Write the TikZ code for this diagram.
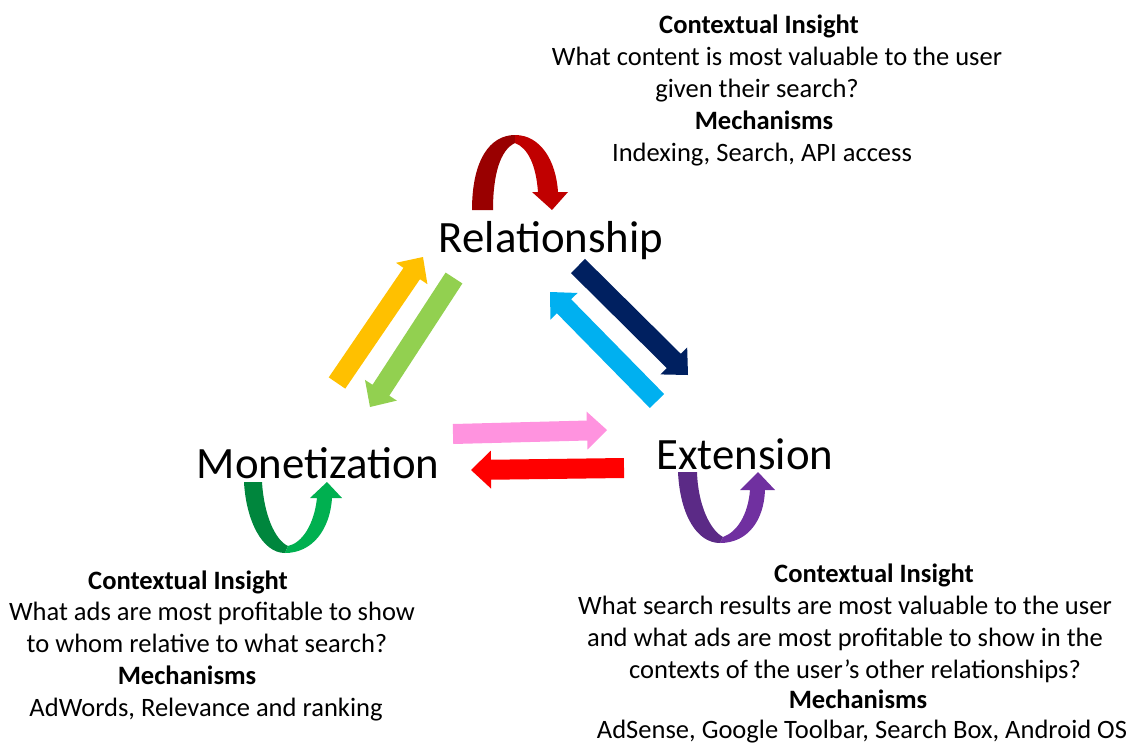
\documentclass[tikz,border=0pt]{standalone}
\usepackage{fontspec}
\setmainfont{Carlito}
\usetikzlibrary{calc}
\definecolor{cyellow}{HTML}{FFC000}
\definecolor{cgreenl}{HTML}{92D050}
\definecolor{cnavy}{HTML}{002060}
\definecolor{cblue}{HTML}{00B0F0}
\definecolor{cpink}{HTML}{FF93DF}
\definecolor{cred}{HTML}{FF0000}
\definecolor{cdred}{HTML}{990000}
\definecolor{cmred}{HTML}{C00000}
\definecolor{cdgreen}{HTML}{00863D}
\definecolor{cmgreen}{HTML}{00B050}
\definecolor{cdpurple}{HTML}{5B2A86}
\definecolor{cmpurple}{HTML}{7030A0}
% #1 colour, #2 tail, #3 tip
\newcommand\blkarrow[3]{%
  \coordinate (#2h) at ($(#3)!0.4cm!(#2)$);
  \fill[#1] ($(#2)!0.2cm!90:(#3)$) -- ($(#2h)!0.2cm!90:(#3)$) -- ($(#2h)!0.38cm!90:(#3)$)
    -- (#3) -- ($(#2h)!0.38cm!-90:(#3)$) -- ($(#2h)!0.2cm!-90:(#3)$) -- ($(#2)!0.2cm!-90:(#3)$) -- cycle;
}
\tikzset{
  txt/.style={font=\fontsize{15.1}{18}\selectfont, anchor=base, inner sep=0pt},
  txtb/.style={txt, font=\fontsize{15.1}{18}\selectfont\bfseries},
  big/.style={font=\fontsize{25.5}{30}\selectfont, anchor=base, inner sep=0pt},
}
\begin{document}
\begin{tikzpicture}[x=0.02cm, y=-0.02cm]
\path[use as bounding box] (0,0) rectangle (1133,744);

% main labels
\node[big] (rel) at (551,252) {Relationship};
\node[big] (mon) at (318,478) {Monetization};
\node[big] (ext) at (745,469) {Extension};

% straight arrows
\coordinate (ya) at (337,383); \coordinate (yb) at (423,257);
\blkarrow{cyellow}{ya}{yb}
\coordinate (ga) at (454,278); \coordinate (gb) at (370,407);
\blkarrow{cgreenl}{ga}{gb}
\coordinate (na) at (578,266); \coordinate (nb) at (688,375);
\blkarrow{cnavy}{na}{nb}
\coordinate (ba) at (657,401); \coordinate (bb) at (550,292);
\blkarrow{cblue}{ba}{bb}
\coordinate (pa) at (453,434); \coordinate (pb) at (607,430);
\blkarrow{cpink}{pa}{pb}
\coordinate (ra) at (624,468); \coordinate (rb) at (471,470);
\blkarrow{cred}{ra}{rb}

% curved arrow above Relationship
\fill[cdred] (472,210) .. controls (472,160) and (490,135) .. (515,135) -- (515,143)
  .. controls (500,150) and (493,175) .. (493,210) -- cycle;
\fill[cmred] (515,135) .. controls (540,135) and (556,160) .. (558,192) -- (568,192) -- (552,210)
  -- (532,192) -- (538,192) .. controls (536,165) and (528,148) .. (515,143) -- cycle;

% curved arrow below Monetization
\fill[cdgreen] (244,482) .. controls (246,520) and (262,553) .. (285,553) -- (288,546)
  .. controls (275,540) and (264,515) .. (262,482) -- cycle;
\fill[cmgreen] (285,553) .. controls (312,553) and (330,530) .. (332,498) -- (342,498) -- (327,482)
  -- (310,498) -- (317,498) .. controls (314,525) and (302,543) .. (288,546) -- cycle;

% curved arrow below Extension
\fill[cdpurple] (678,472) .. controls (680,515) and (697,543) .. (720,543) -- (723,537)
  .. controls (710,530) and (698,505) .. (697,472) -- cycle;
\fill[cmpurple] (720,543) .. controls (748,543) and (764,520) .. (765,490) -- (775,490) -- (758,472)
  -- (740,490) -- (750,490) .. controls (748,515) and (737,532) .. (723,537) -- cycle;

% top text block
\node[txtb] (t1) at (759,33) {Contextual Insight};
\node[txt]  (t2) at (777,65) {What content is most valuable to the user};
\node[txt]  (t3) at (757,97) {given their search?};
\node[txtb] (t4) at (764,129) {Mechanisms};
\node[txt]  (t5) at (762,161) {Indexing, Search, API access};

% bottom-left text block
\node[txtb] (l1) at (188,589) {Contextual Insight};
\node[txt]  (l2) at (212,620) {What ads are most profitable to show};
\node[txt]  (l3) at (207,652) {to whom relative to what search?};
\node[txtb] (l4) at (187,684) {Mechanisms};
\node[txt]  (l5) at (206,716) {AdWords, Relevance and ranking};

% bottom-right text block
\node[txtb] (r1) at (874,582) {Contextual Insight};
\node[txt]  (r2) at (845,614) {What search results are most valuable to the user};
\node[txt]  (r3) at (845,646) {and what ads are most profitable to show in the};
\node[txt]  (r4) at (855,678) {contexts of the user’s other relationships?};
\node[txtb] (r5) at (858,708) {Mechanisms};
\node[txt]  (r6) at (862,738) {AdSense, Google Toolbar, Search Box, Android OS};
\end{tikzpicture}
\end{document}
